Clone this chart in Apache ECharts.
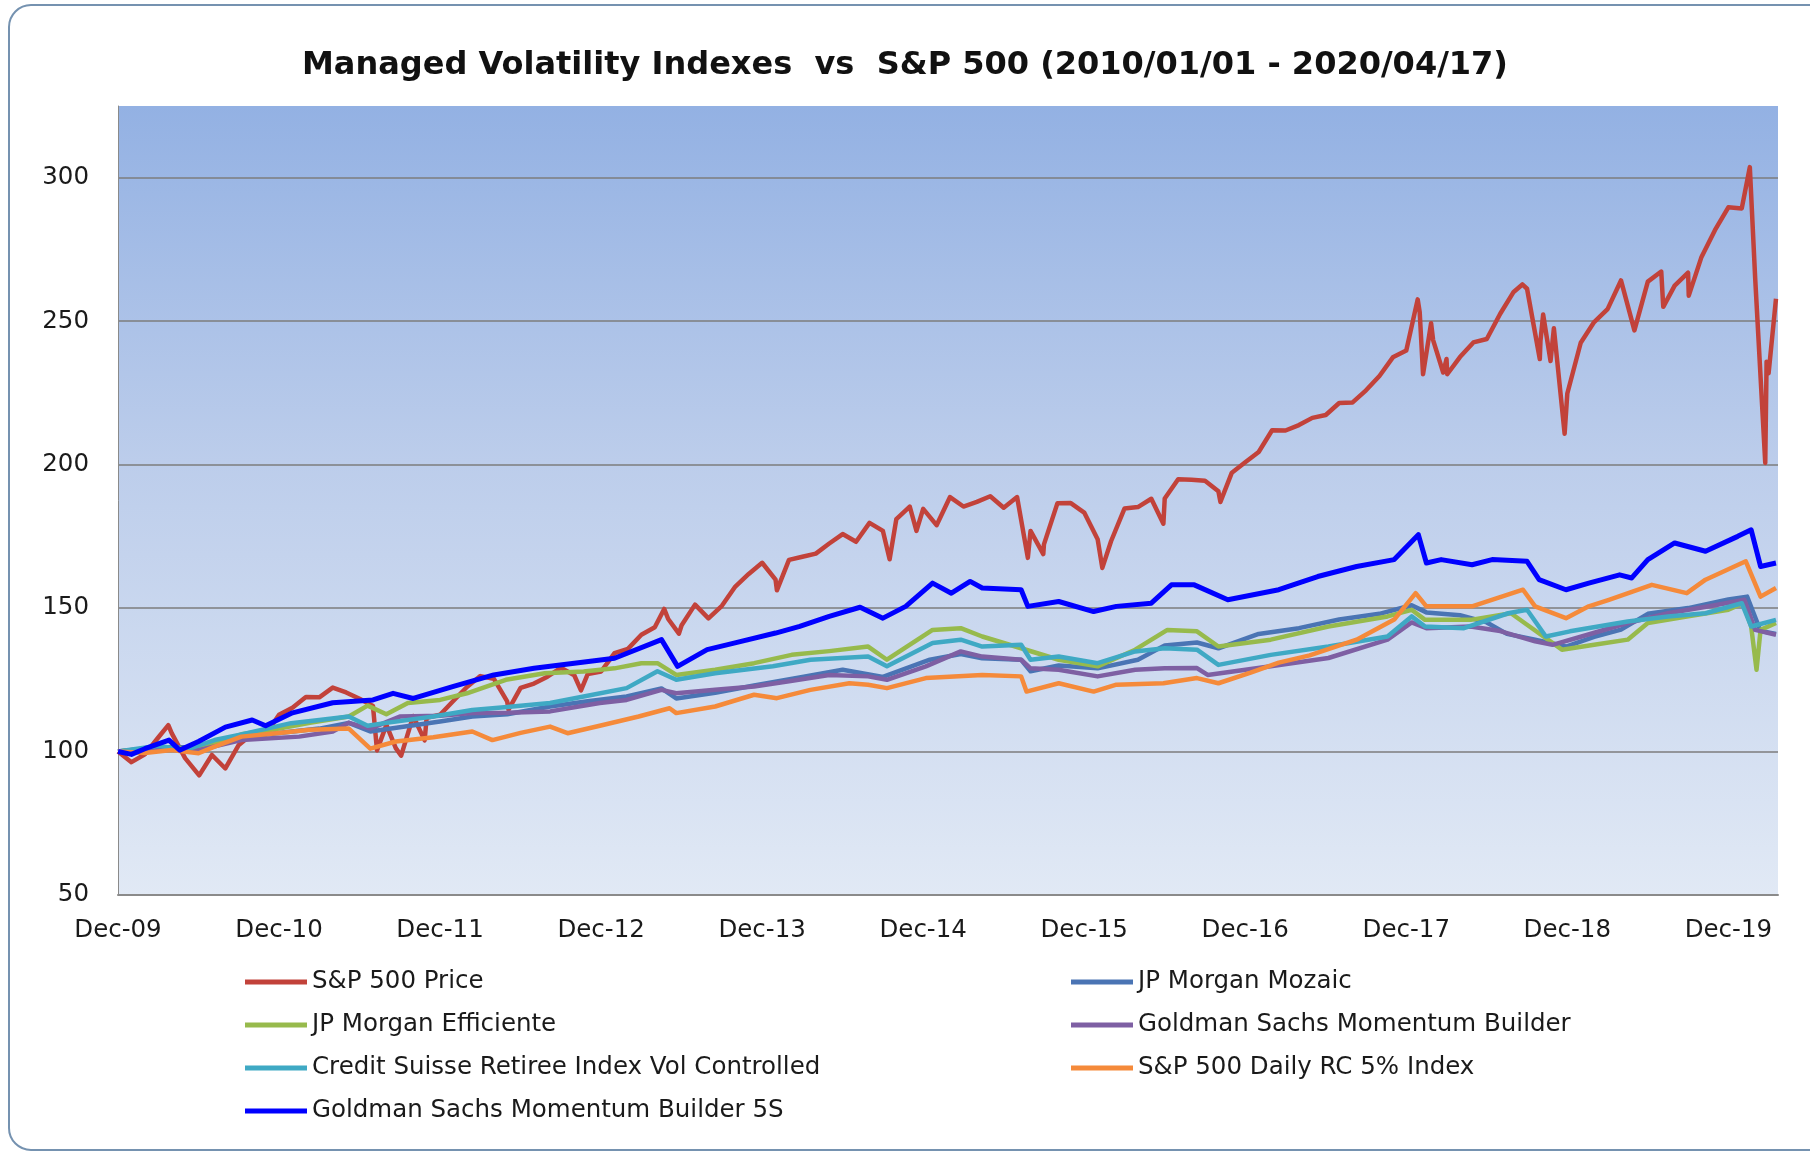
<!DOCTYPE html>
<html>
<head>
<meta charset="utf-8">
<title>Managed Volatility Indexes vs S&P 500</title>
<script src="https://cdn.jsdelivr.net/npm/echarts@6/dist/echarts.min.js"></script>
<style>
	html, body { margin: 0; padding: 0; background: #fff; }
	#charts { width: 1810px; height: 1153px; }
</style>
</head>
<body>
<div id="charts"></div>
<script>
// x = months since Dec-09 (0 = 2009/12/31), y = index level (start = 100)
const xLabels = ['Dec-09', 'Dec-10', 'Dec-11', 'Dec-12', 'Dec-13', 'Dec-14', 'Dec-15', 'Dec-16', 'Dec-17', 'Dec-18', 'Dec-19'];
const yTicks = [50, 100, 150, 200, 250, 300];

const seriesNames = [
	'S&P 500 Price',
	'JP Morgan Mozaic',
	'JP Morgan Efficiente',
	'Goldman Sachs Momentum Builder',
	'Credit Suisse Retiree Index Vol Controlled',
	'S&P 500 Daily RC 5% Index',
	'Goldman Sachs Momentum Builder 5S'
];
const seriesColors = ['#C2423A', '#4A74B4', '#97BA4C', '#7E5FA3', '#3FA9C4', '#F58A3A', '#0000FF'];

const sp500Price = [
	[0,100],[1,96.3],[2,99.0],[3,104.9],[3.75,109.2],[4,106.4],[5,97.7],[6.05,91.7],[7,98.8],[8,94.1],[9,102.3],[10,106.1],[11,105.9],[12,112.8],
	[13,115.3],[14,119.0],[15,118.9],[16,122.3],[17,120.6],[18,118.4],[19,115.9],[19.3,100.4],[20,109.3],[20.7,101.2],[21.1,98.6],[22,112.4],[22.85,103.9],[23,111.8],[24,112.8],
	[25,117.7],[26,122.5],[27,126.3],[28,125.4],[29,117.5],[29.1,114.6],[30,122.2],[31,123.7],[32,126.1],[33,129.2],[34,126.6],[34.5,121.3],[35,127.0],[36,127.9],
	[37,134.3],[38,135.8],[39,140.7],[40,143.3],[40.7,149.7],[41,146.2],[41.8,141.1],[42,144.0],[43,151.2],[44,146.4],[45,150.8],[46,157.5],[47,161.9],[48,165.8],
	[49,159.9],[49.1,156.2],[50,166.8],[51,167.9],[52,169.0],[53,172.5],[54,175.8],[55,173.1],[56,179.7],[57,176.9],[57.5,167.0],[58,181.0],[59,185.4],[59.5,176.9],[60,184.6],
	[61,178.9],[62,188.7],[63,185.4],[64,187.0],[65,189.0],[66,185.0],[67,188.7],[67.8,167.5],[68,176.9],[68.95,168.8],[69,172.2],[70,186.5],[71,186.6],[72,183.3],
	[73,174.0],[73.35,164.0],[74,173.3],[75,184.7],[76,185.2],[77,188.1],[77.9,179.4],[78,188.2],[79,194.9],[80,194.7],[81,194.4],[82,190.7],[82.15,187.0],[83,197.2],[84,200.8],
	[85,204.4],[86,212.0],[87,211.9],[88,213.8],[89,216.3],[90,217.3],[91,221.5],[92,221.7],[93,225.9],[94,230.9],[95,237.4],[96,239.8],
	[96.85,257.6],[97,253.2],[97.25,231.5],[97.85,249.3],[98,243.4],[98.75,232.1],[99,236.8],[99.05,231.5],[100,237.5],[101,242.6],[102,243.8],[103,252.6],[104,260.2],[104.65,262.8],[105,261.3],[105.95,236.8],[106,243.2],[106.2,252.3],[106.75,236.1],[107,247.5],[107.8,210.8],[108,224.8],
	[109,242.5],[110,249.7],[111,254.2],[112,264.2],[113,246.8],[114,263.8],[115,267.3],[115.15,255.0],[116,262.4],[117,266.9],[117.05,258.9],[118,272.4],[119,281.7],[120,289.7],
	[121,289.3],[121.6,303.7],[122,264.9],[122.75,200.6],[122.85,235.9],[123,231.8],[123.55,257.8]
];

const jpmMozaic = [
	[0,100],[3,101.5],[6,101.5],[9.2,105],[12,106.5],[15,108],[17.2,110],[18.8,107],[21,108.5],[24,110.5],[26.4,112.2],[29,113],[32.2,115.7],[35,117.5],
	[37.9,119.2],[40.5,122],[41.6,118.5],[44.5,120.5],[47.4,123],[51,126],[54,128.5],[57,126],[60.5,132],[62.8,134],[64.4,132.5],[67.3,132],[68,128],
	[70.1,130],[73,129],[76,132],[78,137],[80.4,138],[82,136],[85,141],[88,143],[91,146],[94,148],[96.4,151],[97.5,148.5],[100,147.5],[102,145],
	[103.5,141],[105.6,139],[107.9,136.6],[110,140],[112,142.5],[114,148],[117,150],[120,153],[121.4,154],[122.4,142],[123.55,141]
];

const jpmEfficiente = [
	[0,100],[3,101.5],[6,101],[9.2,106],[12,108],[14.3,110],[17.2,112.2],[18.6,116],[20,113],[21.6,116.9],[24,118],[26,120.3],[28.9,125],[31.8,127.3],
	[34.7,127.9],[37,129],[39,130.8],[40.2,130.8],[41.6,126.7],[44.5,128.5],[47.4,130.8],[50.2,133.7],[53,135],[55.9,136.6],[57.3,132],[60.7,142.4],
	[62.8,143],[64.4,140.1],[67.3,136],[70.1,132],[73,129.7],[75.8,135.5],[78.2,142.4],[80.4,141.9],[82,136.6],[85.9,139],[90.2,143.6],[94.6,147.1],
	[96.4,149.4],[97.4,145.9],[100.8,145.9],[103.8,148.2],[105,144.2],[107.6,135.5],[110,137.2],[112.5,139],[114,144.8],[116.9,147.1],[120,149.4],
	[121.1,151.7],[121.7,143.6],[122.1,128.5],[122.4,142.4],[123.55,144.8]
];

const gsMomentum = [
	[0,100],[3,101],[6,100.5],[9.2,104],[13.5,105.2],[16,107],[17.2,110],[18.8,108],[21,112.2],[24,112.5],[26.4,113.4],[29,113.5],[32.2,114],[35.9,116.9],
	[37.9,118],[40.5,121.5],[41.6,120.3],[44.5,121.5],[47.4,122.7],[50,124.5],[53,126.7],[55.9,126.2],[57.3,125],[60.2,129.7],[62.8,134.9],[64.4,133.1],
	[67.3,132],[68,129],[70.1,128.5],[73,126.2],[75.8,128.5],[78,129],[80.4,129.1],[81.2,126.7],[85.9,129.7],[90.2,132.6],[94.6,139],[96.4,145],[97.5,143],
	[100.8,143.6],[103,142],[105.6,138.4],[106.9,137.2],[109,140],[112.5,144.8],[115.5,148.2],[119,151],[121.2,152.9],[122,142.4],[123.55,140.7]
];

const creditSuisse = [
	[0,100],[3,102],[5,100.5],[7.2,104],[9.2,106],[12.9,109.9],[15,111],[17.2,112.2],[18.6,109],[20,110],[23.5,112.2],[26.4,114.5],[29,115.5],[32.2,116.9],
	[34.7,119.2],[37.9,122.1],[40.2,128],[41.6,125],[44.5,127.3],[48.8,129.7],[51.6,132],[55.9,133.1],[57.3,129.7],[60.7,137.8],[62.8,139],[64.4,136.6],
	[67.3,137.2],[68,132],[70.1,133.1],[73,130.8],[75.8,134.9],[78,136],[80.4,135.5],[82,130.2],[85.9,133.7],[90.2,136.6],[94.6,140.1],[96.4,147.1],
	[97.4,143.6],[100.3,143],[103.6,148.2],[105,149.4],[106.4,140.1],[108.2,141.9],[112.5,145.3],[115.5,147.1],[118.3,148.2],[121,151.7],[121.7,143.6],[123.55,145.9]
];

const spDailyRc5 = [
	[0,100],[2,99.5],[4,100.5],[6,99.4],[7.2,101.7],[9.2,105.2],[12,106.5],[14.3,107.6],[17.2,108],[18.8,101],[20.7,103.5],[23.5,105],[26.4,107],[27.9,104],
	[30,106.5],[32.2,108.7],[33.5,106.4],[35.9,109],[38.8,112.2],[41.1,115.1],[41.6,113.4],[44.5,115.7],[47.4,119.8],[49.1,118.6],[51.6,121.5],[54.5,123.8],
	[55.9,123.3],[57.3,122.1],[60.2,125.6],[64.4,126.7],[67.3,126.2],[67.7,120.9],[70.1,123.8],[72.7,120.9],[74.4,123.3],[77.9,123.8],[80.4,125.6],[82,123.8],
	[84.4,127.5],[86.5,131],[88.8,133.5],[92.3,139],[95.1,146],[96.7,155.2],[97.5,150.6],[100.9,150.6],[104.7,156.4],[105.6,150.6],[107.9,146.5],[109.6,150.6],
	[111.1,152.9],[114.3,158.1],[116.9,155.2],[118.3,159.9],[121.3,166.3],[122.4,154],[123.55,157]
];

const gsMomentum5S = [
	[0,100],[1,99],[2,101],[3.8,104],[4.6,100.5],[6,103.5],[8,108.5],[10,111],[11,109],[13,113.5],[16,117],[19,118],[20.5,120.3],[22,118.5],[25,122.7],
	[28,126.7],[31,129],[34,130.8],[37,132.5],[40.5,139],[41.7,129.7],[43.9,135.5],[45.9,137.8],[49,141.3],[50.8,143.6],[53,147.1],[55.3,150.3],[57,146.5],
	[58.7,150.6],[60.7,158.7],[62.1,155.2],[63.5,159.3],[64.4,157],[67.3,156.4],[67.8,150.6],[70.1,152.3],[72.7,148.8],[74.4,150.6],[77,151.7],[78.5,158.1],
	[80.2,158.1],[82.7,152.9],[86.5,156.4],[89.4,161],[92.3,164.5],[95.1,166.9],[96.3,172.7],[96.9,175.6],[97.5,165.7],[98.6,166.9],[100.9,165.1],[102.4,166.9],
	[105,166.3],[105.9,159.9],[107.9,156.4],[109.6,158.7],[111.9,161.6],[112.8,160.5],[114,166.9],[116,172.7],[118.3,169.8],[120.7,175],[121.7,177.3],[122.4,164.5],[123.55,165.7]
];

const seriesValues = [sp500Price, jpmMozaic, jpmEfficiente, gsMomentum, creditSuisse, spDailyRc5, gsMomentum5S];
const legendLeft = [seriesNames[0], seriesNames[2], seriesNames[4], seriesNames[6]];
const legendRight = [seriesNames[1], seriesNames[3], seriesNames[5]];

var myChart = echarts.init(document.getElementById('charts'), null, { renderer: 'canvas' });

const seriesList = seriesValues.map((data, i) => ({
	type: 'line',
	name: seriesNames[i],
	data: data,
	showSymbol: false,
	color: seriesColors[i],
	lineStyle: {
		width: i === 6 ? 5 : 4.5,
		color: seriesColors[i],
		join: 'round'
	},
	z: 2 + i
}));

const labelFont = 'DejaVu Sans';
const labelSize = 24.5;

const legendBase = {
	orient: 'vertical',
	top: 963,
	itemWidth: 62,
	itemHeight: 5,
	itemGap: 15,
	icon: 'rect',
	textStyle: {
		fontFamily: labelFont,
		fontSize: labelSize,
		lineHeight: 28,
		color: '#1a1a1a'
	}
};

let option = {
	animation: false,
	backgroundColor: '#ffffff',
	title: {
		text: 'Managed Volatility Indexes  vs  S&P 500 (2010/01/01 - 2020/04/17)',
		left: 'center',
		top: 45,
		textStyle: {
			fontFamily: 'DejaVu Sans',
			fontWeight: 'bold',
			fontSize: 32,
			color: '#111111'
		}
	},
	graphic: [{
		type: 'rect',
		shape: { x: 9, y: 5, width: 1840, height: 1145, r: 22 },
		style: { fill: 'none', stroke: '#7592b0', lineWidth: 2 },
		silent: true
	}],
	legend: [
		Object.assign({ left: 240, data: legendLeft }, legendBase),
		Object.assign({ left: 1066, data: legendRight }, legendBase)
	],
	grid: {
		left: 118,
		right: 32,
		top: 106,
		bottom: 258,
		show: true,
		borderWidth: 0,
		backgroundColor: new echarts.graphic.LinearGradient(0, 0, 0, 1, [
			{ offset: 0, color: '#93b1e3' },
			{ offset: 0.45, color: '#bccdeb' },
			{ offset: 1, color: '#e1e9f5' }
		])
	},
	xAxis: {
		type: 'value',
		min: 0,
		max: 123.7,
		interval: 12,
		axisLine: { show: true, lineStyle: { color: '#8a8a8a', width: 2 } },
		axisTick: { show: false },
		splitLine: { show: false },
		axisLabel: {
			showMaxLabel: false,
			margin: 23,
			fontFamily: labelFont,
			fontSize: labelSize,
			color: '#1a1a1a',
			formatter: (v) => xLabels[Math.round(v / 12)] || ''
		}
	},
	yAxis: {
		type: 'value',
		min: 50,
		max: 325,
		interval: 50,
		axisLine: { show: true, lineStyle: { color: '#8a8a8a', width: 1 } },
		axisTick: { show: false },
		splitLine: {
			show: true,
			showMinLine: false,
			showMaxLine: false,
			lineStyle: { color: '#7d7d7d', width: 1.5 }
		},
		axisLabel: {
			showMaxLabel: false,
			margin: 29,
			fontFamily: labelFont,
			fontSize: labelSize,
			color: '#1a1a1a',
			formatter: (v) => (yTicks.indexOf(v) >= 0 ? String(v) : '')
		}
	},
	series: seriesList
};

myChart.setOption(option);
</script>
</body>
</html>
